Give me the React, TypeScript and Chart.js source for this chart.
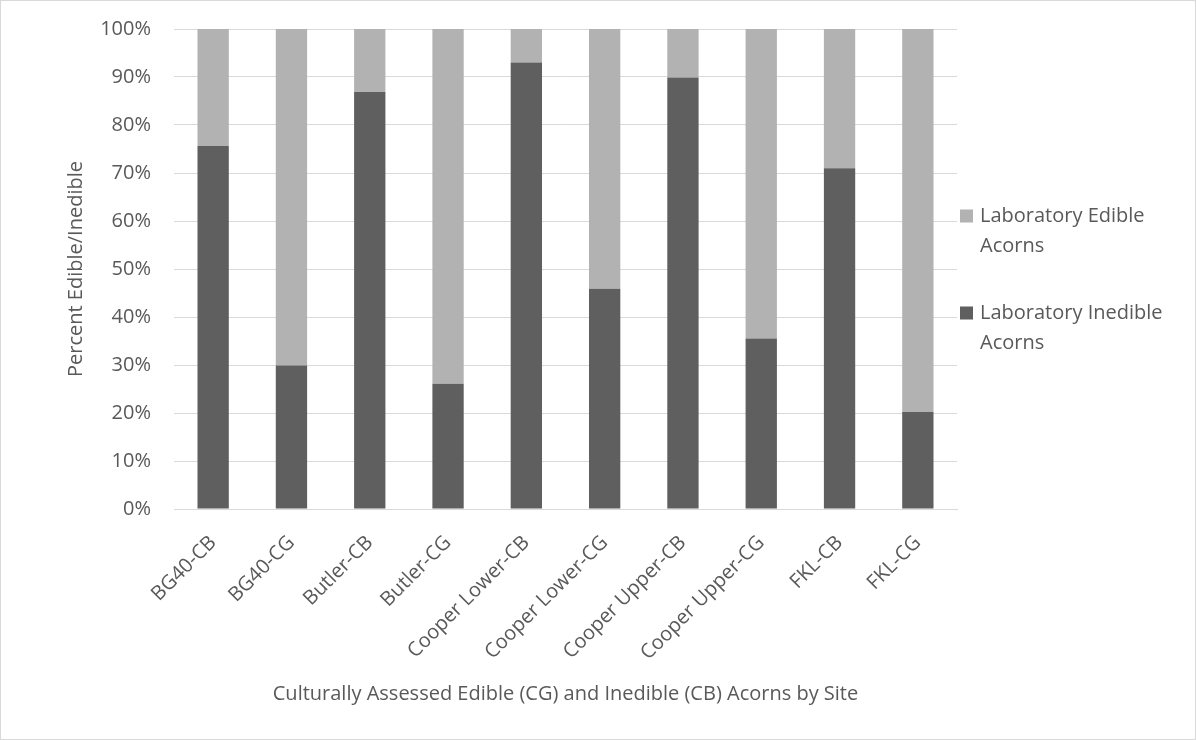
import React, { useEffect, useRef } from 'react';
import { Chart, registerables } from 'chart.js';

Chart.register(...registerables);

const categories = [
  'BG40-CB',
  'BG40-CG',
  'Butler-CB',
  'Butler-CG',
  'Cooper Lower-CB',
  'Cooper Lower-CG',
  'Cooper Upper-CB',
  'Cooper Upper-CG',
  'FKL-CB',
  'FKL-CG',
];
const inedibleValues = [75.6, 29.9, 86.9, 26.1, 93.0, 45.9, 89.9, 35.5, 71.0, 20.2];
const edibleValues = [24.4, 70.1, 13.1, 73.9, 7.0, 54.1, 10.1, 64.5, 29.0, 79.8];
const yTicks = [0, 10, 20, 30, 40, 50, 60, 70, 80, 90, 100];

const legendItems = [
  { lines: ['Laboratory Edible', 'Acorns'], color: '#b2b2b2' },
  { lines: ['Laboratory Inedible', 'Acorns'], color: '#5f5f5f' },
];

const FONT = "'Open Sans', sans-serif";
const TEXT = '#595959';

const frame = {
  id: 'frame',
  beforeDraw(chart: any) {
    const { ctx, width, height } = chart;
    ctx.save();
    ctx.fillStyle = '#ffffff';
    ctx.fillRect(0, 0, width, height);
    ctx.strokeStyle = '#d9d9d9';
    ctx.lineWidth = 1;
    ctx.strokeRect(0.5, 0.5, width - 1, height - 1);
    ctx.restore();
  },
};

const sideLegend = {
  id: 'sideLegend',
  afterDraw(chart: any) {
    const { ctx, chartArea } = chart;
    const mid = (chartArea.top + chartArea.bottom) / 2;
    const x0 = chartArea.right + 3;
    const starts = [mid - 53, mid + 44];
    ctx.save();
    ctx.font = `20px ${FONT}`;
    ctx.textBaseline = 'middle';
    ctx.textAlign = 'left';
    legendItems.forEach((it, i) => {
      const y = starts[i];
      ctx.fillStyle = it.color;
      ctx.fillRect(x0, y - 6.5, 13, 13);
      ctx.fillStyle = TEXT;
      it.lines.forEach((ln, j) => {
        ctx.fillText(ln, x0 + 20, y + j * 30);
      });
    });
    ctx.restore();
  },
};

export default function App() {
  const ref = useRef<HTMLCanvasElement | null>(null);

  useEffect(() => {
    if (!ref.current) return;
    const chart = new Chart(ref.current, {
      type: 'bar',
      data: {
        labels: categories,
        datasets: [
          {
            label: 'Laboratory Inedible Acorns',
            data: inedibleValues,
            backgroundColor: '#5f5f5f',
            borderWidth: 0,
            categoryPercentage: 1,
            barPercentage: 0.4,
          },
          {
            label: 'Laboratory Edible Acorns',
            data: edibleValues,
            backgroundColor: '#b2b2b2',
            borderWidth: 0,
            categoryPercentage: 1,
            barPercentage: 0.4,
          },
        ],
      },
      options: {
        responsive: false,
        animation: false,
        layout: { padding: { left: 0, top: 29, right: 239, bottom: 0 } },
        plugins: {
          legend: { display: false },
          tooltip: { enabled: false },
        },
        scales: {
          x: {
            stacked: true,
            afterFit(scale: any) {
              scale.height = 231;
            },
            grid: { display: false, drawTicks: false },
            border: { display: true, color: '#d9d9d9', width: 1 },
            ticks: {
              autoSkip: false,
              minRotation: 45,
              maxRotation: 45,
              padding: 22,
              color: TEXT,
              font: { family: FONT, size: 20 },
            },
            title: {
              display: true,
              text: 'Culturally Assessed Edible (CG) and Inedible (CB) Acorns by Site',
              color: TEXT,
              font: { family: FONT, size: 20 },
              padding: { top: 0, bottom: 34 },
            },
          },
          y: {
            stacked: true,
            min: 0,
            max: 100,
            afterFit(scale: any) {
              scale.width = 174;
            },
            afterBuildTicks(scale: any) {
              scale.ticks = yTicks.map((v) => ({ value: v }));
            },
            grid: {
              color: '#d9d9d9',
              lineWidth: 1,
              drawTicks: true,
              tickLength: 23,
              tickColor: 'rgba(0,0,0,0)',
            },
            border: { display: false },
            ticks: {
              padding: 0,
              color: TEXT,
              font: { family: FONT, size: 20 },
              callback: (v: any) => `${v}%`,
            },
            title: {
              display: true,
              text: 'Percent Edible/Inedible',
              color: TEXT,
              font: { family: FONT, size: 20 },
              padding: { top: 64, bottom: 0 },
            },
          },
        },
      },
      plugins: [frame, sideLegend],
    });
    return () => chart.destroy();
  }, []);

  return (
    <div style={{ position: 'absolute', left: 0, top: 0, width: 1196, height: 740 }}>
      <canvas ref={ref} width={1196} height={740} style={{ width: 1196, height: 740 }} />
    </div>
  );
}
